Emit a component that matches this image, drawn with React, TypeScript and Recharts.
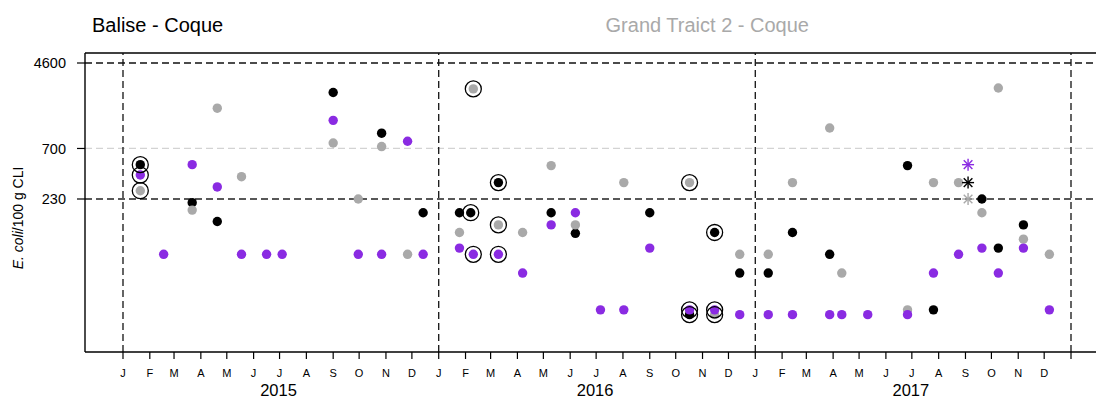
import React from 'react'
import { ScatterChart, Scatter, XAxis, YAxis, ReferenceLine } from 'recharts'

// E. coli / 100 g CLI, three sampling points, log scale
const BLACK_DATES = [
  '2015-01-21', '2015-03-22', '2015-04-20', '2015-09-01', '2015-10-27', '2015-12-14',
  '2016-01-25', '2016-02-07', '2016-03-10', '2016-05-10', '2016-06-07', '2016-09-01',
  '2016-10-17', '2016-11-15', '2016-12-14', '2017-01-16', '2017-02-13', '2017-03-28',
  '2017-06-26', '2017-07-26', '2017-09-20', '2017-10-09', '2017-11-07',
]
const BLACK_VALUES = [
  490, 212, 140, 2400, 980, 170,
  170, 170, 330, 170, 108, 170,
  18, 110, 45, 45, 110, 68,
  480, 20, 230, 78, 130,
]

const GREY_DATES = [
  '2015-01-21', '2015-03-22', '2015-04-20', '2015-05-18', '2015-09-01', '2015-09-30',
  '2015-10-27', '2015-11-26', '2016-01-25', '2016-02-10', '2016-03-10', '2016-04-07',
  '2016-05-10', '2016-06-07', '2016-08-02', '2016-10-17', '2016-11-15', '2016-12-14',
  '2017-01-16', '2017-02-13', '2017-03-28', '2017-04-11', '2017-06-26', '2017-07-26',
  '2017-08-24', '2017-09-20', '2017-10-09', '2017-11-07', '2017-12-07',
]
const GREY_VALUES = [
  276, 180, 1700, 376, 790, 230,
  730, 68, 110, 2600, 130, 110,
  480, 130, 330, 330, 18, 68,
  68, 330, 1100, 45, 20, 330,
  330, 170, 2650, 95, 68,
]

const PURPLE_DATES = [
  '2015-01-21', '2015-02-17', '2015-03-22', '2015-04-20', '2015-05-18', '2015-06-16',
  '2015-07-04', '2015-09-01', '2015-09-30', '2015-10-27', '2015-11-26', '2015-12-14',
  '2016-01-25', '2016-02-10', '2016-03-10', '2016-04-07', '2016-05-10', '2016-06-07',
  '2016-07-06', '2016-08-02', '2016-09-01', '2016-10-17', '2016-11-15', '2016-12-14',
  '2017-01-16', '2017-02-13', '2017-03-28', '2017-04-11', '2017-05-11', '2017-06-26',
  '2017-07-26', '2017-08-24', '2017-09-20', '2017-10-09', '2017-11-07', '2017-12-07',
]
const PURPLE_VALUES = [
  390, 68, 490, 300, 68, 68,
  68, 1300, 68, 68, 820, 68,
  78, 68, 68, 45, 130, 170,
  20, 20, 78, 20, 20, 18,
  18, 18, 18, 18, 18, 18,
  45, 68, 78, 45, 78, 20,
]

// asterisk markers (one date, three series)
const STAR_DATES = ['2017-09-04', '2017-09-04', '2017-09-04']
const STAR_VALUES = [490, 330, 230]
const STAR_COLORS = ['#8a2be2', '#000000', '#a9a9a9']

// circled results
const CIRCLE_DATES = [
  '2015-01-21', '2015-01-21', '2015-01-21', '2016-02-07', '2016-02-10', '2016-02-10',
  '2016-03-10', '2016-03-10', '2016-03-10', '2016-10-17', '2016-10-17', '2016-10-17',
  '2016-11-15', '2016-11-15', '2016-11-15',
]
const CIRCLE_VALUES = [
  490, 390, 276, 170, 2600, 68,
  330, 130, 68, 330, 20, 18,
  110, 20, 18,
]

const Y_TICKS = [230, 700, 4600]
const MONTH_LETTERS = ['J', 'F', 'M', 'A', 'M', 'J', 'J', 'A', 'S', 'O', 'N', 'D']
const YEARS = [2015, 2016, 2017]

const DAY = 86400000
const ts = (d: string) => Date.parse(d + 'T00:00:00Z')
const toPoints = (dates: string[], values: number[]) =>
  dates.map((d, i) => ({ x: ts(d), y: values[i] }))

const blackData = toPoints(BLACK_DATES, BLACK_VALUES)
const greyData = toPoints(GREY_DATES, GREY_VALUES)
const purpleData = toPoints(PURPLE_DATES, PURPLE_VALUES)
const circleData = toPoints(CIRCLE_DATES, CIRCLE_VALUES)
const starData = STAR_DATES.map((d, i) => ({ x: ts(d), y: STAR_VALUES[i], color: STAR_COLORS[i] }))

const monthTicks: number[] = []
YEARS.forEach((yr) => MONTH_LETTERS.forEach((_, m) => monthTicks.push(Date.UTC(yr, m, 1))))
monthTicks.push(Date.UTC(YEARS[YEARS.length - 1] + 1, 0, 1))
const yearLines = [...YEARS, YEARS[YEARS.length - 1] + 1].map((yr) => Date.UTC(yr, 0, 1))

const X_MIN = Date.UTC(2015, 0, 1) - 43.93 * DAY
const X_MAX = Date.UTC(2018, 0, 1) + 65.9 * DAY
const PX_DECADE = 104.53
const Y_HI = Math.pow(10, Math.log10(4600) + 10 / PX_DECADE)
const Y_LO = Math.pow(10, Math.log10(Y_HI) - 299 / PX_DECADE)

const FONT = '"Liberation Sans", Arial, Helvetica, sans-serif'
const GREY = '#a9a9a9'
const PURPLE = '#8a2be2'

const dot = (color: string) => (props: any) =>
  <circle cx={props.cx} cy={props.cy} r={4.7} fill={color} />

const ring = (props: any) =>
  <circle cx={props.cx} cy={props.cy} r={8} fill="none" stroke="#000" strokeWidth={1.3} />

const star = (props: any) => {
  const { cx, cy } = props
  const c = props.payload?.color ?? props.color ?? '#000'
  const s = 6
  const d = 4.3
  return (
    <g stroke={c} strokeWidth={1.4}>
      <line x1={cx - s} y1={cy} x2={cx + s} y2={cy} />
      <line x1={cx} y1={cy - s} x2={cx} y2={cy + s} />
      <line x1={cx - d} y1={cy - d} x2={cx + d} y2={cy + d} />
      <line x1={cx - d} y1={cy + d} x2={cx + d} y2={cy - d} />
    </g>
  )
}

const MonthTick = (props: any) => {
  const { x, payload } = props
  const dt = new Date(payload.value)
  const m = dt.getUTCMonth()
  const yr = dt.getUTCFullYear()
  if (!YEARS.includes(yr)) return <g />
  return (
    <g fontFamily={FONT} fill="#000">
      <text x={x} y={369} textAnchor="middle" fontSize={11}>{MONTH_LETTERS[m]}</text>
      {m === 6 && (
        <text x={x - 1} y={388} textAnchor="middle" fontSize={16.5}>{yr}</text>
      )}
    </g>
  )
}

export default function App() {
  return (
    <div style={{ position: 'relative', width: 1096, height: 400, overflow: 'hidden' }}>
      <ScatterChart width={1120} height={400} margin={{ top: 45, right: 0, left: 0, bottom: 16 }}>
        <XAxis
          type="number"
          dataKey="x"
          domain={[X_MIN, X_MAX]}
          allowDataOverflow
          ticks={monthTicks}
          interval={0}
          tick={<MonthTick />}
          tickSize={7}
          height={40}
          axisLine={{ stroke: '#000', strokeWidth: 1.4 }}
          tickLine={{ stroke: '#000', strokeWidth: 1.2 }}
        />
        <YAxis
          type="number"
          dataKey="y"
          scale="log"
          domain={[Y_LO, Y_HI]}
          allowDataOverflow
          ticks={Y_TICKS}
          interval={0}
          width={77}
          tickSize={8}
          tickMargin={11}
          tick={{ fill: '#000', fontSize: 14.5, fontFamily: FONT }}
          axisLine={{ stroke: '#000', strokeWidth: 1.4 }}
          tickLine={{ stroke: '#000', strokeWidth: 1.2 }}
        />
        <ReferenceLine y={Y_HI} stroke="#000" strokeWidth={1.4} />
        <ReferenceLine y={4600} stroke="#111" strokeWidth={1.3} strokeDasharray="7 4" />
        <ReferenceLine y={700} stroke="#d3d3d3" strokeWidth={1.3} strokeDasharray="7 4" />
        <ReferenceLine y={230} stroke="#222" strokeWidth={1.3} strokeDasharray="7 4" />
        {yearLines.map((t) => (
          <ReferenceLine key={t} x={t} stroke="#111" strokeWidth={1.3} strokeDasharray="7 4" />
        ))}
        <Scatter data={blackData} shape={dot('#000')} isAnimationActive={false} />
        <Scatter data={greyData} shape={dot(GREY)} isAnimationActive={false} />
        <Scatter data={purpleData} shape={dot(PURPLE)} isAnimationActive={false} />
        <Scatter data={circleData} shape={ring} isAnimationActive={false} />
        <Scatter data={starData} shape={star} isAnimationActive={false} />
      </ScatterChart>
      <svg
        width={1096}
        height={400}
        style={{ position: 'absolute', left: 0, top: 0, pointerEvents: 'none' }}
        fontFamily={FONT}
      >
        <text x={84} y={24} fontSize={20} fill="#000">Balise - Coque</text>
        <text x={801} y={24} fontSize={20} fill={GREY} textAnchor="end">Grand Traict 2 - Coque</text>
        <text x={15} y={210} fontSize={14} fill="#000" textAnchor="middle" transform="rotate(-90 15 210)">
          <tspan fontStyle="italic">E. coli</tspan>/100 g CLI
        </text>
      </svg>
    </div>
  )
}
